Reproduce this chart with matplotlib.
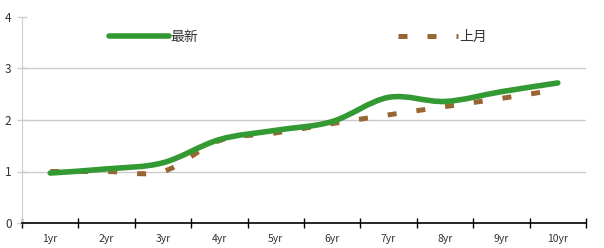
import matplotlib
matplotlib.use('Agg')
import matplotlib.pyplot as plt
from matplotlib.path import Path
from matplotlib.patches import PathPatch
from matplotlib.lines import Line2D
import numpy as np

plt.rcParams['font.family'] = ['Noto Sans CJK SC', 'DejaVu Sans']

years = ['1yr', '2yr', '3yr', '4yr', '5yr', '6yr', '7yr', '8yr', '9yr', '10yr']
latest = [0.97, 1.05, 1.17, 1.62, 1.80, 1.97, 2.44, 2.36, 2.55, 2.72]
last_month = [1.0, 1.0, 1.0, 1.6, 1.75, 1.93, 2.1, 2.26, 2.42, 2.59]

green = '#339933'
brown = '#996633'


def smooth_path(xs, ys):
    # catmull-rom through the points, as cubic bezier segments
    pts = np.column_stack([xs, ys]).astype(float)
    verts = [pts[0]]
    codes = [Path.MOVETO]
    n = len(pts)
    for i in range(n - 1):
        p0 = pts[max(i - 1, 0)]
        p1 = pts[i]
        p2 = pts[i + 1]
        p3 = pts[min(i + 2, n - 1)]
        c1 = p1 + (p2 - p0) / 6.0
        c2 = p2 - (p3 - p1) / 6.0
        verts += [c1, c2, p2]
        codes += [Path.CURVE4] * 3
    return Path(verts, codes)


fig = plt.figure(figsize=(6.04, 2.48), dpi=100)
ax = fig.add_axes([22 / 604, 25 / 248, 564 / 604, 206 / 248])

x = np.arange(len(years))
ax.add_patch(PathPatch(smooth_path(x, last_month), fill=False, edgecolor=brown,
                       lw=3.6, linestyle=(0, (1.8, 4.0)), capstyle='butt', zorder=3))
ax.add_patch(PathPatch(smooth_path(x, latest), fill=False, edgecolor=green,
                       lw=4.0, capstyle='round', zorder=4))

ax.set_xlim(-0.5, len(years) - 0.5)
ax.set_ylim(0, 4)

# category boundaries as ticks, labels at centers
ax.set_xticks(np.arange(len(years) + 1) - 0.5)
ax.set_xticklabels([])
ax.set_xticks(x, minor=True)
ax.set_xticklabels(years, minor=True, fontsize=7.5, color='#333333')
ax.tick_params(axis='x', which='major', direction='inout', length=7, width=1, color='black')
ax.tick_params(axis='x', which='minor', length=0, pad=8)

ax.set_yticks([0, 1, 2, 3, 4])
ax.set_yticklabels(['0', '1', '2', '3', '4'], fontsize=8.5, color='#333333')
ax.tick_params(axis='y', direction='inout', length=7, width=1, color='#cccccc', pad=4)

for v in [1, 2, 3]:
    ax.axhline(v, color='#cccccc', lw=1, zorder=1)

for s in ['top', 'right']:
    ax.spines[s].set_visible(False)
ax.spines['left'].set_color('#cccccc')
ax.spines['bottom'].set_color('black')
ax.spines['bottom'].set_linewidth(1.2)

handles = [Line2D([], [], color=green, lw=4.0, solid_capstyle='round'),
           Line2D([], [], color=brown, lw=3.6, linestyle=(0, (1.8, 4.0)), dash_capstyle='butt')]
leg = ax.legend(handles, ['最新', '上月'], ncol=2, loc='upper center',
                bbox_to_anchor=(0.49, 1.0), frameon=False, fontsize=10,
                handlelength=4.3, handletextpad=0.1, columnspacing=14.4,
                labelcolor='#333333')

fig.savefig('out.png', dpi=100)
